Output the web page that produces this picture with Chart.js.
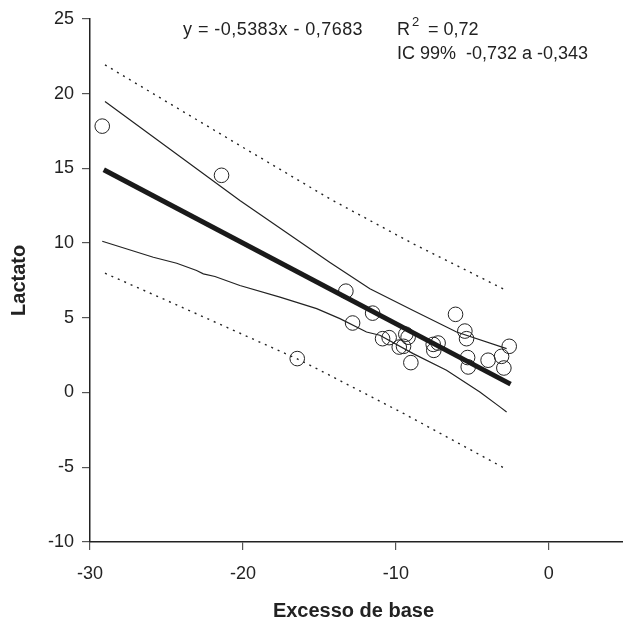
<!DOCTYPE html>
<html>
<head>
<meta charset="utf-8">
<script src="https://cdn.jsdelivr.net/npm/chart.js@4"></script>
<style>
  html, body { margin: 0; padding: 0; background: #fff; }
  #wrap { width: 623px; height: 622px; }
</style>
</head>
<body>
<div id="wrap"><canvas id="chart" width="623" height="622"></canvas></div>
<script>
// pacientes: excesso de base (x) e lactato (y)
const pointsX = [-29.2, -21.4, -16.45, -13.27, -11.52, -12.83, -10.87, -10.44, -9.78, -9.5,
  -9.35, -9.2, -9.02, -7.56, -7.24, -7.52, -6.1, -5.49, -5.38, -5.31, -5.27, -3.97, -3.09, -2.59, -2.94];
const pointsY = [17.82, 14.53, 2.27, 6.78, 5.31, 4.65, 3.6, 3.67, 3.04, 3.09,
  3.9, 3.7, 2.0, 3.22, 3.31, 2.82, 5.23, 4.11, 3.6, 2.34, 1.71, 2.16, 2.42, 3.09, 1.64];

// reta de regressao
const fitX = [-29.1, -2.5];
const fitY = [14.9, 0.56];

// IC da reta (linhas continuas finas)
const upperCiX = [-29.02, -20.2, -14.31, -11.7, -8.87, -6.03, -2.76];
const upperCiY = [19.47, 12.84, 8.7, 6.94, 5.49, 4.05, 2.94];
const lowerCiX = [-29.2, -25.86, -24.33, -23.03, -22.59, -21.83, -20.2, -17.58, -15.18, -13.66, -11.92, -11.05, -8.87, -6.69, -4.51, -3.2, -2.76];
const lowerCiY = [10.12, 9.05, 8.65, 8.16, 7.94, 7.76, 7.16, 6.38, 5.61, 4.94, 4.05, 3.83, 2.6, 1.49, 0.04, -0.96, -1.3];

// intervalo de predicao (pontilhado)
const upperPiX = [-29.02, -20.0, -14.31, -8.87, -2.99];
const upperPiY = [21.92, 16.4, 12.95, 9.95, 6.94];
const lowerPiX = [-29.02, -24.99, -16.49, -14.97, -9.5, -2.76];
const lowerPiY = [7.98, 6.16, 2.27, 1.49, -1.4, -5.14];

const xTicks = [-30, -20, -10, 0];

const ink = "#222";
const font = "'Liberation Sans', Arial, sans-serif";
const zip = (xs, ys) => xs.map((x, i) => ({ x, y: ys[i] }));

const lineDs = (data, extra) => Object.assign({
  data,
  showLine: true,
  pointRadius: 0,
  borderColor: ink,
  borderWidth: 1.2,
  tension: 0,
  fill: false,
}, extra);

const annotations = {
  id: "annotations",
  afterDraw(chart) {
    const c = chart.ctx;
    const area = chart.chartArea;
    c.save();
    c.fillStyle = ink;
    c.textBaseline = "middle";
    c.textAlign = "left";
    c.font = "18px " + font;
    c.letterSpacing = "0.45px";
    c.fillText("y = -0,5383x - 0,7683", 183, 30);
    c.letterSpacing = "0px";
    c.fillText("R", 397, 30);
    c.font = "13px " + font;
    c.fillText("2", 412, 22);
    c.font = "18px " + font;
    c.fillText("= 0,72", 428, 30);
    c.fillText("IC 99%  -0,732 a -0,343", 397, 54);

    c.font = "bold 20px " + font;
    c.textAlign = "center";
    c.fillText("Excesso de base", (area.left + area.right) / 2 - 3, 611);
    c.translate(19, (area.top + area.bottom) / 2);
    c.rotate(-Math.PI / 2);
    c.fillText("Lactato", 0, 0);
    c.restore();
  },
};

new Chart(document.getElementById("chart"), {
  type: "scatter",
  data: {
    datasets: [
      lineDs(zip(upperPiX, upperPiY), { borderDash: [2, 5], borderWidth: 1.4 }),
      lineDs(zip(lowerPiX, lowerPiY), { borderDash: [2, 5], borderWidth: 1.4 }),
      lineDs(zip(upperCiX, upperCiY)),
      lineDs(zip(lowerCiX, lowerCiY)),
      lineDs(zip(fitX, fitY), { borderWidth: 5, borderColor: "#1a1a1a", borderCapStyle: "butt" }),
      {
        data: zip(pointsX, pointsY),
        pointRadius: 7.3,
        pointStyle: "circle",
        backgroundColor: "rgba(0,0,0,0)",
        borderColor: ink,
        borderWidth: 1,
      },
    ],
  },
  options: {
    responsive: false,
    animation: false,
    events: [],
    layout: { autoPadding: false, padding: { top: 18, right: 0, left: 0, bottom: 0 } },
    plugins: {
      legend: { display: false },
      tooltip: { enabled: false },
    },
    scales: {
      x: {
        type: "linear",
        min: -30,
        max: 4.85,
        afterBuildTicks: (scale) => { scale.ticks = xTicks.map((v) => ({ value: v })); },
        afterFit: (scale) => {
          scale.height = 80;
          scale.paddingLeft = 0;
          scale.paddingRight = 0;
        },
        border: { display: true, color: ink, width: 1.5 },
        grid: { drawOnChartArea: false, drawTicks: true, tickLength: 8, color: "#555", lineWidth: 1.2 },
        ticks: {
          color: ink,
          padding: 13,
          maxRotation: 0,
          font: { family: font, size: 18 },
        },
      },
      y: {
        type: "linear",
        min: -10,
        max: 25,
        afterFit: (scale) => { scale.width = 90; },
        border: { display: true, color: ink, width: 1.5 },
        grid: { drawOnChartArea: false, drawTicks: true, tickLength: 8, color: "#555", lineWidth: 1.2 },
        ticks: {
          stepSize: 5,
          color: ink,
          padding: 8,
          font: { family: font, size: 18 },
        },
      },
    },
  },
  plugins: [annotations],
});
</script>
</body>
</html>
